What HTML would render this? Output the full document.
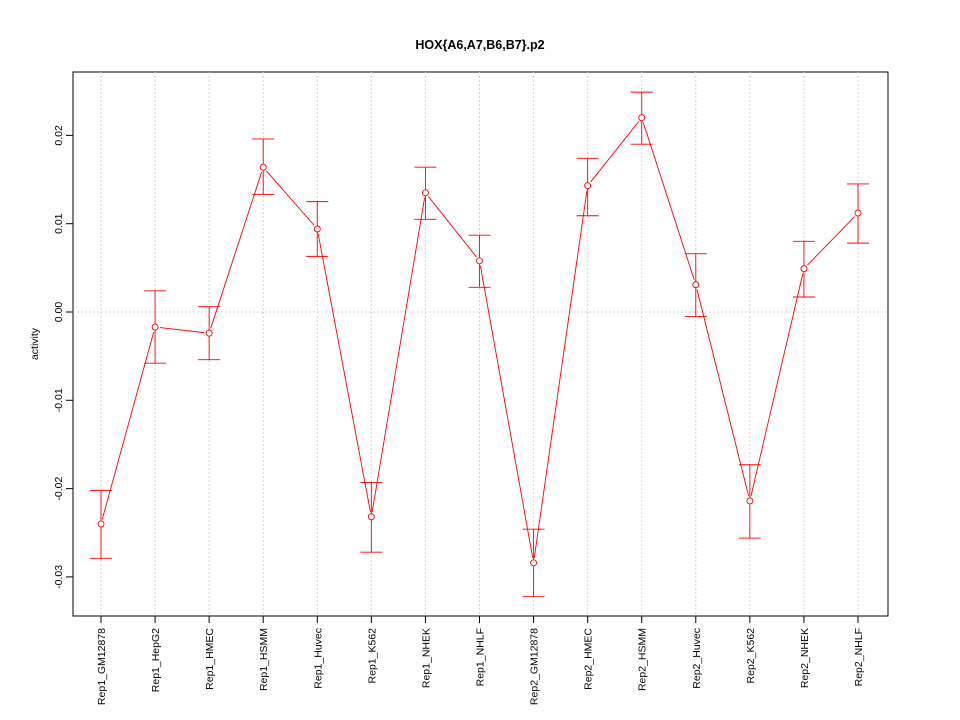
<!DOCTYPE html>
<html><head><meta charset="utf-8"><style>body{margin:0;background:#fff}svg{display:block}</style></head>
<body>
<svg id="chart" width="960" height="720" xmlns="http://www.w3.org/2000/svg" font-family="Liberation Sans, sans-serif">
<text x="480" y="49" text-anchor="middle" font-size="12.5" font-weight="bold">HOX{A6,A7,B6,B7}.p2</text>
<text transform="translate(38,344) rotate(-90)" text-anchor="middle" font-size="10.5">activity</text>
<rect x="73" y="72" width="815" height="544" fill="none" stroke="#000"/>
<g id="grid"></g><g id="axes"></g><g id="marks"></g>
</svg>
<script>
const categories=["Rep1_GM12878","Rep1_HepG2","Rep1_HMEC","Rep1_HSMM","Rep1_Huvec","Rep1_K562","Rep1_NHEK","Rep1_NHLF","Rep2_GM12878","Rep2_HMEC","Rep2_HSMM","Rep2_Huvec","Rep2_K562","Rep2_NHEK","Rep2_NHLF"];
const values=[-0.0240,-0.0017,-0.0024,0.0164,0.0094,-0.0232,0.0135,0.0058,-0.0284,0.0143,0.0220,0.0031,-0.0214,0.0049,0.0112];
const upper=[-0.0202,0.0024,0.0006,0.0196,0.0125,-0.0193,0.0164,0.0087,-0.0246,0.0174,0.0249,0.0066,-0.0173,0.0080,0.0145];
const lower=[-0.0279,-0.0058,-0.0054,0.0133,0.0063,-0.0272,0.0105,0.0028,-0.0322,0.0109,0.0190,-0.0005,-0.0256,0.0017,0.0078];
const yTicks=[-0.03,-0.02,-0.01,0.00,0.01,0.02];
const yTickLabels=["-0.03","-0.02","-0.01","0.00","0.01","0.02"];
const NS="http://www.w3.org/2000/svg";
const x=i=>101+i*(858-101)/(categories.length-1);
const y=v=>312-v*8830;
function mk(t,a,p){const e=document.createElementNS(NS,t);for(const k in a)e.setAttribute(k,a[k]);p.appendChild(e);return e;}
const grid=document.getElementById('grid'),axes=document.getElementById('axes'),marks=document.getElementById('marks');
categories.forEach((c,i)=>{
 const g=mk('line',{x1:x(i),x2:x(i),y1:72,y2:616,stroke:'#d3d3d3','stroke-dasharray':'2,2'},grid);
 
 
 const t=mk('line',{x1:x(i),x2:x(i),y1:616,y2:623,stroke:'#000'},axes);
 
 
 const l=mk('text',{transform:`translate(${x(i)+4},628) rotate(-90)`,'text-anchor':'end','font-size':'10.5'},axes);
 l.textContent=c;
 
 
});
yTicks.forEach((v,i)=>{
 if(Math.abs(v)<1e-9){const g=mk('line',{x1:73,x2:888,y1:y(v),y2:y(v),stroke:'#d3d3d3','stroke-dasharray':'2,2'},grid);
  
  }
 const t=mk('line',{x1:66,x2:73,y1:y(v),y2:y(v),stroke:'#000'},axes);
 
 
 const l=mk('text',{transform:`translate(62,${y(v)}) rotate(-90)`,'text-anchor':'middle','font-size':'10.5'},axes);
 l.textContent=yTickLabels[i];
 
 
});
for(let i=0;i<values.length-1;i++){
 const x1=x(i),y1=y(values[i]),x2=x(i+1),y2=y(values[i+1]);
 const d=Math.hypot(x2-x1,y2-y1),ux=(x2-x1)/d,uy=(y2-y1)/d;
 const s=mk('line',{x1:x1+ux*5,y1:y1+uy*5,x2:x2-ux*5,y2:y2-uy*5,stroke:'#ff0000','stroke-width':'0.9'},marks);
 
 
}
values.forEach((v,i)=>{
 const cx=x(i);
 const b=mk('path',{d:`M${cx},${y(upper[i])}V${y(lower[i])}M${cx-11},${y(upper[i])}H${cx+11}M${cx-11},${y(lower[i])}H${cx+11}`,stroke:'#ff0000',fill:'none','stroke-width':'0.9'},marks);
 
 
 const p=mk('circle',{cx:cx,cy:y(v),r:3,fill:'#fff',stroke:'#ff0000','stroke-width':'0.9'},marks);
 
 
});
</script>
</body></html>
